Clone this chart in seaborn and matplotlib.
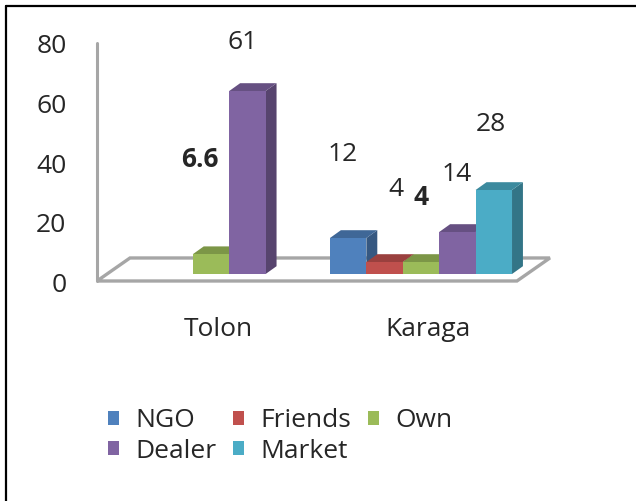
#%% ---- Load Packages ----
import numpy as np
import pandas as pd
import matplotlib
matplotlib.use("Agg")
import matplotlib.pyplot as plt
import matplotlib.transforms as mtransforms
from matplotlib.patches import Polygon
from matplotlib.lines import Line2D
import seaborn as sns

# %% ---- Data ----
regions = ["Tolon", "Karaga"]
sources = ["NGO", "Friends", "Own", "Dealer", "Market"]
tolon_values = [np.nan, np.nan, 6.6, 61, np.nan]
karaga_values = [12, 4, 4, 14, 28]
y_ticks = [0, 20, 40, 60, 80]

colors = ["#4F81BD", "#C0504D", "#9BBB59", "#8064A2", "#4BACC6"]

df = pd.DataFrame({
    "region": np.repeat(regions, len(sources)),
    "source": sources * len(regions),
    "share": tolon_values + karaga_values,
}).dropna()

# value label offsets (px right, px up) from the top of each bar
label_offsets = {
    (0, 2): (-11, 95), (0, 3): (-5, 49),
    (1, 0): (-5, 83), (1, 1): (11, 72), (1, 2): (0, 64),
    (1, 3): (-1, 57), (1, 4): (-3, 65),
}

# %% ---- Plot ----
sns.set_theme(style="white")
plt.rcParams["font.family"] = ["Open Sans", "DejaVu Sans"]
txt = "#262626"
grey = "#A6A6A6"
fs = 19

W, H = 636, 501
fig = plt.figure(figsize=(W / 100, H / 100), dpi=100)
ax = fig.add_axes([97 / W, 1 - 300 / H, (560 - 97) / W, 280 / H])

bar_w = 0.867
sns.barplot(data=df, x="region", y="share", hue="source", order=regions,
            hue_order=sources, palette=colors, saturation=1, width=bar_w,
            errorbar=None, linewidth=0, ax=ax)

ax.set_xlim(-0.543, 1.662)
ax.set_ylim(-8.667, 84.667)

handles, labels = ax.get_legend_handles_labels()
ax.get_legend().remove()

# fake 3D depth
dx, dy = 0.052, 2.6
bars = [p for c in ax.containers for p in c
        if np.isfinite(p.get_height()) and p.get_width() > 0]
bars = sorted(bars, key=lambda p: p.get_x())
one_w = bar_w / len(sources)
for i, p in enumerate(bars):
    x0, w, h = p.get_x(), p.get_width(), p.get_height()
    fc = np.array(p.get_facecolor()[:3])
    z = 3 + i * 0.1
    p.set_zorder(z + 0.02)
    top = Polygon([(x0, h), (x0 + w, h), (x0 + w + dx, h + dy), (x0 + dx, h + dy)],
                  closed=True, fc=fc * 0.8, ec="none", zorder=z)
    side = Polygon([(x0 + w, 0), (x0 + w + dx, dy), (x0 + w + dx, h + dy), (x0 + w, h)],
                   closed=True, fc=fc * 0.68, ec="none", zorder=z)
    ax.add_patch(side)
    ax.add_patch(top)

    cx = x0 + w / 2
    r = int(round(cx))
    k = int(round((cx - r) / one_w + (len(sources) - 1) / 2))
    ox, oy = label_offsets.get((r, k), (0, 60))
    ax.annotate(f"{h:g}", xy=(cx, h), xytext=(ox * 0.72, oy * 0.72),
                textcoords="offset points", ha="center", va="center",
                fontsize=fs, color=txt,
                fontweight="bold" if sources[k] == "Own" else "normal")

# floor and vertical axis line
fx0, fx1, fy = -0.543, 1.457, -2.33
fdx, fdy = 0.157, 7.67
floor = Polygon([(fx0, fy), (fx1, fy), (fx1 + fdx, fy + fdy), (fx0 + fdx, fy + fdy)],
                closed=True, fc="white", ec=grey, lw=2.4, zorder=1)
ax.add_patch(floor)
ax.plot([fx0, fx0], [fy, 77], color=grey, lw=2.2, zorder=1, clip_on=False)

sns.despine(ax=ax, left=True, bottom=True)
ax.set_xlabel("")
ax.set_ylabel("")
ax.set_yticks(y_ticks)
ax.set_yticklabels([str(t) for t in y_ticks])
ax.tick_params(axis="y", length=0, pad=22, labelsize=fs, labelcolor=txt)
ax.tick_params(axis="x", length=0, pad=12, labelsize=fs, labelcolor=txt)
shift_y = mtransforms.ScaledTranslation(0, -9 / 100, fig.dpi_scale_trans)
for lab in ax.get_yticklabels():
    lab.set_transform(lab.get_transform() + shift_y)
shift_x = mtransforms.ScaledTranslation(7 / 100, 0, fig.dpi_scale_trans)
for lab in ax.get_xticklabels():
    lab.set_transform(lab.get_transform() + shift_x)

order = [0, 3, 1, 4, 2]
fig.legend([handles[i] for i in order], [labels[i] for i in order],
           loc="center left", bbox_to_anchor=(108 / W, 1 - 436 / H), ncol=3,
           frameon=False, fontsize=fs, labelcolor=txt, handlelength=0.42,
           handleheight=0.42, handletextpad=0.6, columnspacing=0.65,
           labelspacing=0.2, borderpad=0, borderaxespad=0)

# frame lines of the original image
fig.add_artist(Line2D([6 / W, 1], [1 - 6 / H, 1 - 6 / H], color="black", lw=1.6))
fig.add_artist(Line2D([6 / W, 6 / W], [0, 1 - 6 / H], color="black", lw=1.6))

fig.savefig("out.png", dpi=100)
